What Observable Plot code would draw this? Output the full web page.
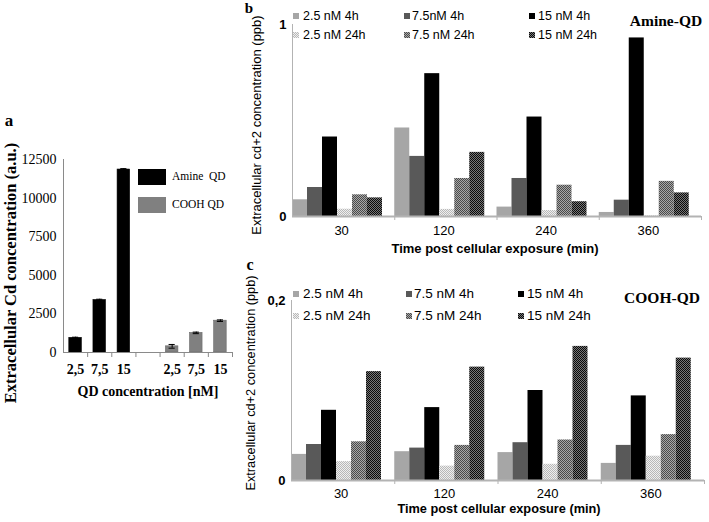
<!DOCTYPE html>
<html><head><meta charset="utf-8">
<script src="https://cdn.jsdelivr.net/npm/d3@7"></script>
<script src="https://cdn.jsdelivr.net/npm/@observablehq/plot@0.6"></script>
<style>
html,body{margin:0;padding:0;background:#fff;}
body{width:709px;height:522px;position:relative;overflow:hidden;font-family:"Liberation Sans",Arial,sans-serif;color:#000;}
.abs{position:absolute;white-space:nowrap;line-height:1;}
.serif{font-family:"Liberation Serif","Times New Roman",serif;}
.ctr{transform:translate(-50%,-50%);}
.lft{transform:translate(0,-50%);}
.rot{transform:translate(-50%,-50%) rotate(-90deg);}
.panel{position:absolute;}
.panel svg{display:block;}
.sw{position:absolute;}
</style></head><body>
<svg width="0" height="0" style="position:absolute">
<defs>
<pattern id="pat1" width="2" height="2" patternUnits="userSpaceOnUse"><rect width="2" height="2" fill="#efefef"/><rect width="1" height="1" fill="#b8b8b8"/><rect x="1" y="1" width="1" height="1" fill="#b8b8b8"/></pattern>
<pattern id="pat2" width="2" height="2" patternUnits="userSpaceOnUse"><rect width="2" height="2" fill="#a8a8a8"/><rect width="1" height="1" fill="#4a4a4a"/><rect x="1" y="1" width="1" height="1" fill="#4a4a4a"/></pattern>
<pattern id="pat3" width="2" height="2" patternUnits="userSpaceOnUse"><rect width="2" height="2" fill="#777777"/><rect width="1" height="1" fill="#0a0a0a"/><rect x="1" y="1" width="1" height="1" fill="#0a0a0a"/></pattern>
</defs></svg>
<script>
// ---------- Panel a data ----------
const concLabels = ["2,5", "7,5", "15"];
const amineQD = [950, 3400, 11850];
const amineErr = [40, 50, 60];
const coohQD = [400, 1270, 2060];
const coohErr = [120, 50, 50];
const aYTicks = [0, 2500, 5000, 7500, 10000, 12500];

// ---------- Panels b, c data ----------
const times = ["30", "120", "240", "360"];
const bSeriesLabels = ["2.5 nM 4h", "7.5nM 4h", "15 nM 4h", "2.5 nM 24h", "7.5 nM 24h", "15 nM 24h"];
const cSeriesLabels = ["2.5 nM 4h", "7.5 nM 4h", "15 nM 4h", "2.5 nM 24h", "7.5 nM 24h", "15 nM 24h"];

// Amine-QD (panel b)
const b_25_4h  = [0.087, 0.461, 0.049, 0.021];
const b_75_4h  = [0.151, 0.313, 0.198, 0.085];
const b_15_4h  = [0.414, 0.744, 0.518, 0.930];
const b_25_24h = [0.038, 0.037, 0.031, 0.003];
const b_75_24h = [0.113, 0.198, 0.163, 0.183];
const b_15_24h = [0.097, 0.334, 0.077, 0.123];

// COOH-QD (panel c)
const c_25_4h  = [0.029, 0.032, 0.031, 0.019];
const c_75_4h  = [0.040, 0.036, 0.042, 0.039];
const c_15_4h  = [0.078, 0.081, 0.100, 0.094];
const c_25_24h = [0.021, 0.016, 0.018, 0.027];
const c_75_24h = [0.043, 0.039, 0.045, 0.051];
const c_15_24h = [0.121, 0.126, 0.149, 0.136];

const bYTicks = [0, 1];
const cYTicks = [0, 0.2];

const fills = ["#a6a6a6", "#595959", "#000000", "url(#pat1)", "url(#pat2)", "url(#pat3)"];

function addText(txt, x, y, cls, css) {
  const d = document.createElement("div");
  d.className = "abs " + cls;
  d.textContent = txt;
  d.style.left = x + "px";
  d.style.top = y + "px";
  Object.assign(d.style, css || {});
  document.body.appendChild(d);
  return d;
}
function addPanel(svg, left, top) {
  const d = document.createElement("div");
  d.className = "panel";
  d.style.left = left + "px";
  d.style.top = top + "px";
  d.appendChild(svg);
  document.body.appendChild(d);
}
function addSwatch(fill, x, y, w, h, stroke) {
  const ns = "http://www.w3.org/2000/svg";
  const s = document.createElementNS(ns, "svg");
  s.setAttribute("width", w); s.setAttribute("height", h);
  s.setAttribute("class", "sw");
  s.style.left = x + "px"; s.style.top = y + "px";
  const r = document.createElementNS(ns, "rect");
  r.setAttribute("width", w); r.setAttribute("height", h);
  r.setAttribute("fill", fill);
  if (stroke) { r.setAttribute("stroke", stroke); }
  s.appendChild(r);
  document.body.appendChild(s);
}

// ---------- Panel a ----------
(function () {
  const keys = [];
  const rows = [];
  concLabels.forEach((c, i) => { keys.push("A" + i); rows.push({k: "A" + i, v: amineQD[i], e: amineErr[i], g: "Amine QD"}); });
  keys.push("gap");
  concLabels.forEach((c, i) => { keys.push("C" + i); rows.push({k: "C" + i, v: coohQD[i], e: coohErr[i], g: "COOH QD"}); });
  const W = 240, ml = 63, mr = 8;
  const band = (W - ml - mr) / keys.length;
  const svg = Plot.plot({
    width: W, height: 320, marginLeft: ml, marginRight: mr, marginTop: 59, marginBottom: 68,
    style: {fontFamily: "Liberation Serif, Times New Roman, serif", fontSize: "14px", color: "#000", background: "transparent"},
    x: {domain: keys, padding: 0, round: false},
    y: {domain: [0, 12500]},
    color: {domain: ["Amine QD", "COOH QD"], range: ["#000000", "#808080"]},
    marks: [
      Plot.barY(rows, {x: "k", y: "v", fill: "g", stroke: d => d.g === "COOH QD" ? "#6a6a6a" : "#000", strokeWidth: 0.6, insetLeft: 5.8, insetRight: 5.8}),
      Plot.ruleX(rows, {x: "k", y1: d => d.v - d.e, y2: d => d.v + d.e, stroke: "#000", strokeWidth: 1}),
      Plot.tickY(rows, {x: "k", y: d => d.v + d.e, stroke: "#000", insetLeft: 9, insetRight: 9}),
      Plot.tickY(rows, {x: "k", y: d => d.v - d.e, stroke: "#000", insetLeft: 9, insetRight: 9}),
      Plot.ruleY([0], {stroke: "#8a8a8a"}),
      Plot.frame({anchor: "left", stroke: "#8a8a8a"}),
      Plot.axisX({tickSize: 5, tickFormat: () => "", dx: band / 2, stroke: "#8a8a8a", label: null}),
      Plot.axisX({tickSize: 0, tickPadding: 12, fontWeight: "bold", fontSize: 14, label: null,
        tickFormat: k => k === "gap" ? "" : concLabels[+k.slice(1)]}),
      Plot.axisY({ticks: aYTicks, tickFormat: d => String(d), tickSize: 0, tickPadding: 7, fontSize: 14, label: null})
    ]
  });
  addPanel(svg, 0, 100);
  addText("a", 9, 120, "serif ctr", {fontWeight: "bold", fontSize: "17px"});
  addText("Extracellular Cd concentration (a.u.)", 11, 273, "serif rot", {fontWeight: "bold", fontSize: "16.5px"});
  addText("QD concentration [nM]", 148, 392, "serif ctr", {fontWeight: "bold", fontSize: "14px"});
  addSwatch("#000000", 138, 169, 28, 16);
  addSwatch("#808080", 138, 197, 28, 16);
  addText("Amine  QD", 172, 177, "serif lft", {fontSize: "11.5px", whiteSpace: "pre"});
  addText("COOH QD", 172, 205, "serif lft", {fontSize: "11.5px"});
})();

// ---------- Grouped panels ----------
function groupedPanel(cols, cfg) {
  const rows = [];
  cols.forEach((vals, s) => vals.forEach((v, i) => rows.push({time: times[i], s, v})));
  const band = (cfg.width - cfg.ml - cfg.mr) / times.length;
  const bw = 15;
  const marks = [];
  cols.forEach((_, s) => marks.push(
    Plot.barY(rows.filter(d => d.s === s), {x: "time", y: "v", fill: fills[s], insetLeft: s * bw, insetRight: band - (s + 1) * bw})
  ));
  marks.push(
    Plot.ruleY([0], {stroke: "#b3b3b3", strokeWidth: 2}),
    Plot.frame({anchor: "left", stroke: "#b3b3b3"}),
    Plot.axisX({tickSize: 4, tickFormat: () => "", dx: band / 2, stroke: "#b3b3b3", label: null}),
    Plot.axisX({tickSize: 0, tickPadding: cfg.tickPad, fontSize: 13, label: null, dx: -2}),
    Plot.axisY({ticks: cfg.yTicks, tickFormat: cfg.yFormat, tickSize: 0, tickPadding: 6, fontWeight: "bold", fontSize: 13, label: null})
  );
  return Plot.plot({
    width: cfg.width, height: cfg.height, marginLeft: cfg.ml, marginRight: cfg.mr, marginTop: cfg.mt, marginBottom: cfg.mb,
    style: {fontFamily: "Liberation Sans, Arial, sans-serif", fontSize: "13px", color: "#000", background: "transparent"},
    x: {domain: times, padding: 0, round: false},
    y: {domain: cfg.yDomain},
    marks
  });
}
function legend(labels, rowsY, swX, txtX, fontSize) {
  labels.forEach((lab, i) => {
    const r = Math.floor(i / 3), c = i % 3;
    addSwatch(fills[i], swX[c], rowsY[r] - 3, 6, 6);
    addText(lab, txtX[c], rowsY[r], "lft", {fontSize: fontSize});
  });
}

// Panel b
addPanel(groupedPanel([b_25_4h, b_75_4h, b_15_4h, b_25_24h, b_75_24h, b_15_24h], {
  width: 469, height: 250, ml: 52, mr: 8, mt: 24, mb: 34, tickPad: 9,
  yDomain: [0, 1], yTicks: bYTicks, yFormat: d => String(d)
}), 240, 0);
addText("b", 249, 8, "serif ctr", {fontWeight: "bold", fontSize: "15px"});
addText("Extracellular cd+2 concentration (ppb)", 256, 125, "rot", {fontSize: "13px"});
addText("Time post cellular exposure (min)", 495, 248, "ctr", {fontWeight: "bold", fontSize: "13px"});
addText("Amine-QD", 666, 21, "serif ctr", {fontWeight: "bold", fontSize: "15.5px"});
legend(bSeriesLabels, [16, 35], [293, 404, 529], [303, 412, 538], "12.5px");

// Panel c
addPanel(groupedPanel([c_25_4h, c_75_4h, c_15_4h, c_25_24h, c_75_24h, c_15_24h], {
  width: 469, height: 272, ml: 51, mr: 5, mt: 50, mb: 42, tickPad: 8,
  yDomain: [0, 0.2], yTicks: cYTicks, yFormat: d => String(d).replace(".", ",")
}), 240, 250);
addText("c", 250, 265, "serif ctr", {fontWeight: "bold", fontSize: "16px"});
addText("Extracellular cd+2 concentration (ppb)", 251, 383, "rot", {fontSize: "12.75px"});
addText("Time post cellular exposure (min)", 499, 509, "ctr", {fontWeight: "bold", fontSize: "12.75px"});
addText("COOH-QD", 662, 298, "serif ctr", {fontWeight: "bold", fontSize: "15.5px"});
legend(cSeriesLabels, [294, 316], [293, 406, 518], [303, 414, 527], "13.5px");
</script>
</body></html>
